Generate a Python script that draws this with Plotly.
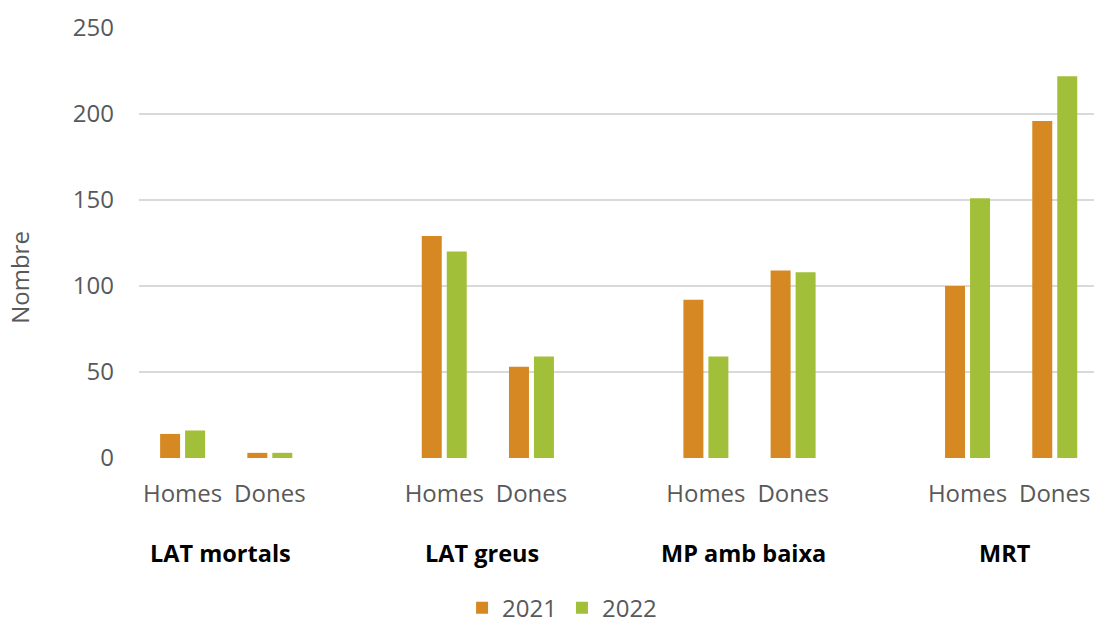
import plotly.graph_objects as go

groups = ["LAT mortals", "LAT greus", "MP amb baixa", "MRT"]
subcats = ["Homes", "Dones"]
series_names = ["2021", "2022"]
values_2021 = [14, 3, 129, 53, 92, 109, 100, 196]
values_2022 = [16, 3, 120, 59, 59, 108, 151, 222]
y_ticks = [0, 50, 100, 150, 200, 250]
colors = ["#D68823", "#A1BF39"]

FONT = "Open Sans"
GRAY = "#595959"

# numeric positions: each group has Homes, Dones, and an empty slot
xpos = []
xlabels = []
for gi, g in enumerate(groups):
    for si, s in enumerate(subcats):
        xpos.append(gi * 3 + si)
        xlabels.append(s)

fig = go.Figure()
for name, vals, col in zip(series_names, [values_2021, values_2022], colors):
    fig.add_trace(go.Bar(x=xpos, y=vals, name=name, marker=dict(color=col, line=dict(width=0))))

annotations = []
for gi, g in enumerate(groups):
    annotations.append(dict(
        x=gi * 3 + 0.43, y=0, xref="x", yref="paper",
        text="<b>" + g + "</b>", showarrow=False,
        xanchor="center", yanchor="middle", yshift=-95,
        font=dict(family=FONT, size=23.5, color="#000000"),
    ))
annotations.append(dict(
    x=0, y=0.419, xref="paper", yref="paper", text="Nombre", showarrow=False,
    textangle=-90, xanchor="center", yanchor="middle", xshift=-119,
    font=dict(family=FONT, size=24, color=GRAY),
))

fig.update_layout(
    width=1094, height=627,
    margin=dict(l=139, r=0, t=28, b=169, autoexpand=False),
    paper_bgcolor="white", plot_bgcolor="white",
    barmode="group", bargap=0.427, bargroupgap=0.2,
    font=dict(family=FONT, size=24, color=GRAY),
    xaxis=dict(
        range=[-0.5, 10.45], tickvals=xpos, ticktext=xlabels,
        showgrid=False, zeroline=False, showline=False, ticks="",
        tickfont=dict(family=FONT, size=24, color=GRAY),
        ticklabelstandoff=19, automargin=False,
    ),
    yaxis=dict(
        range=[0, 250], tickvals=y_ticks, showgrid=True,
        gridcolor="#D9D9D9", gridwidth=1.5, zeroline=False, showline=False,
        ticks="", tickfont=dict(family=FONT, size=24, color=GRAY),
        ticklabelstandoff=24, automargin=False,
    ),
    legend=dict(
        orientation="h", x=0.443, xanchor="center",
        yref="container", y=0.030, yanchor="middle",
        font=dict(family=FONT, size=24, color=GRAY), itemwidth=30,
        bgcolor="rgba(0,0,0,0)", borderwidth=0,
    ),
    annotations=annotations,
    showlegend=True,
)

fig.write_html("out.html")
